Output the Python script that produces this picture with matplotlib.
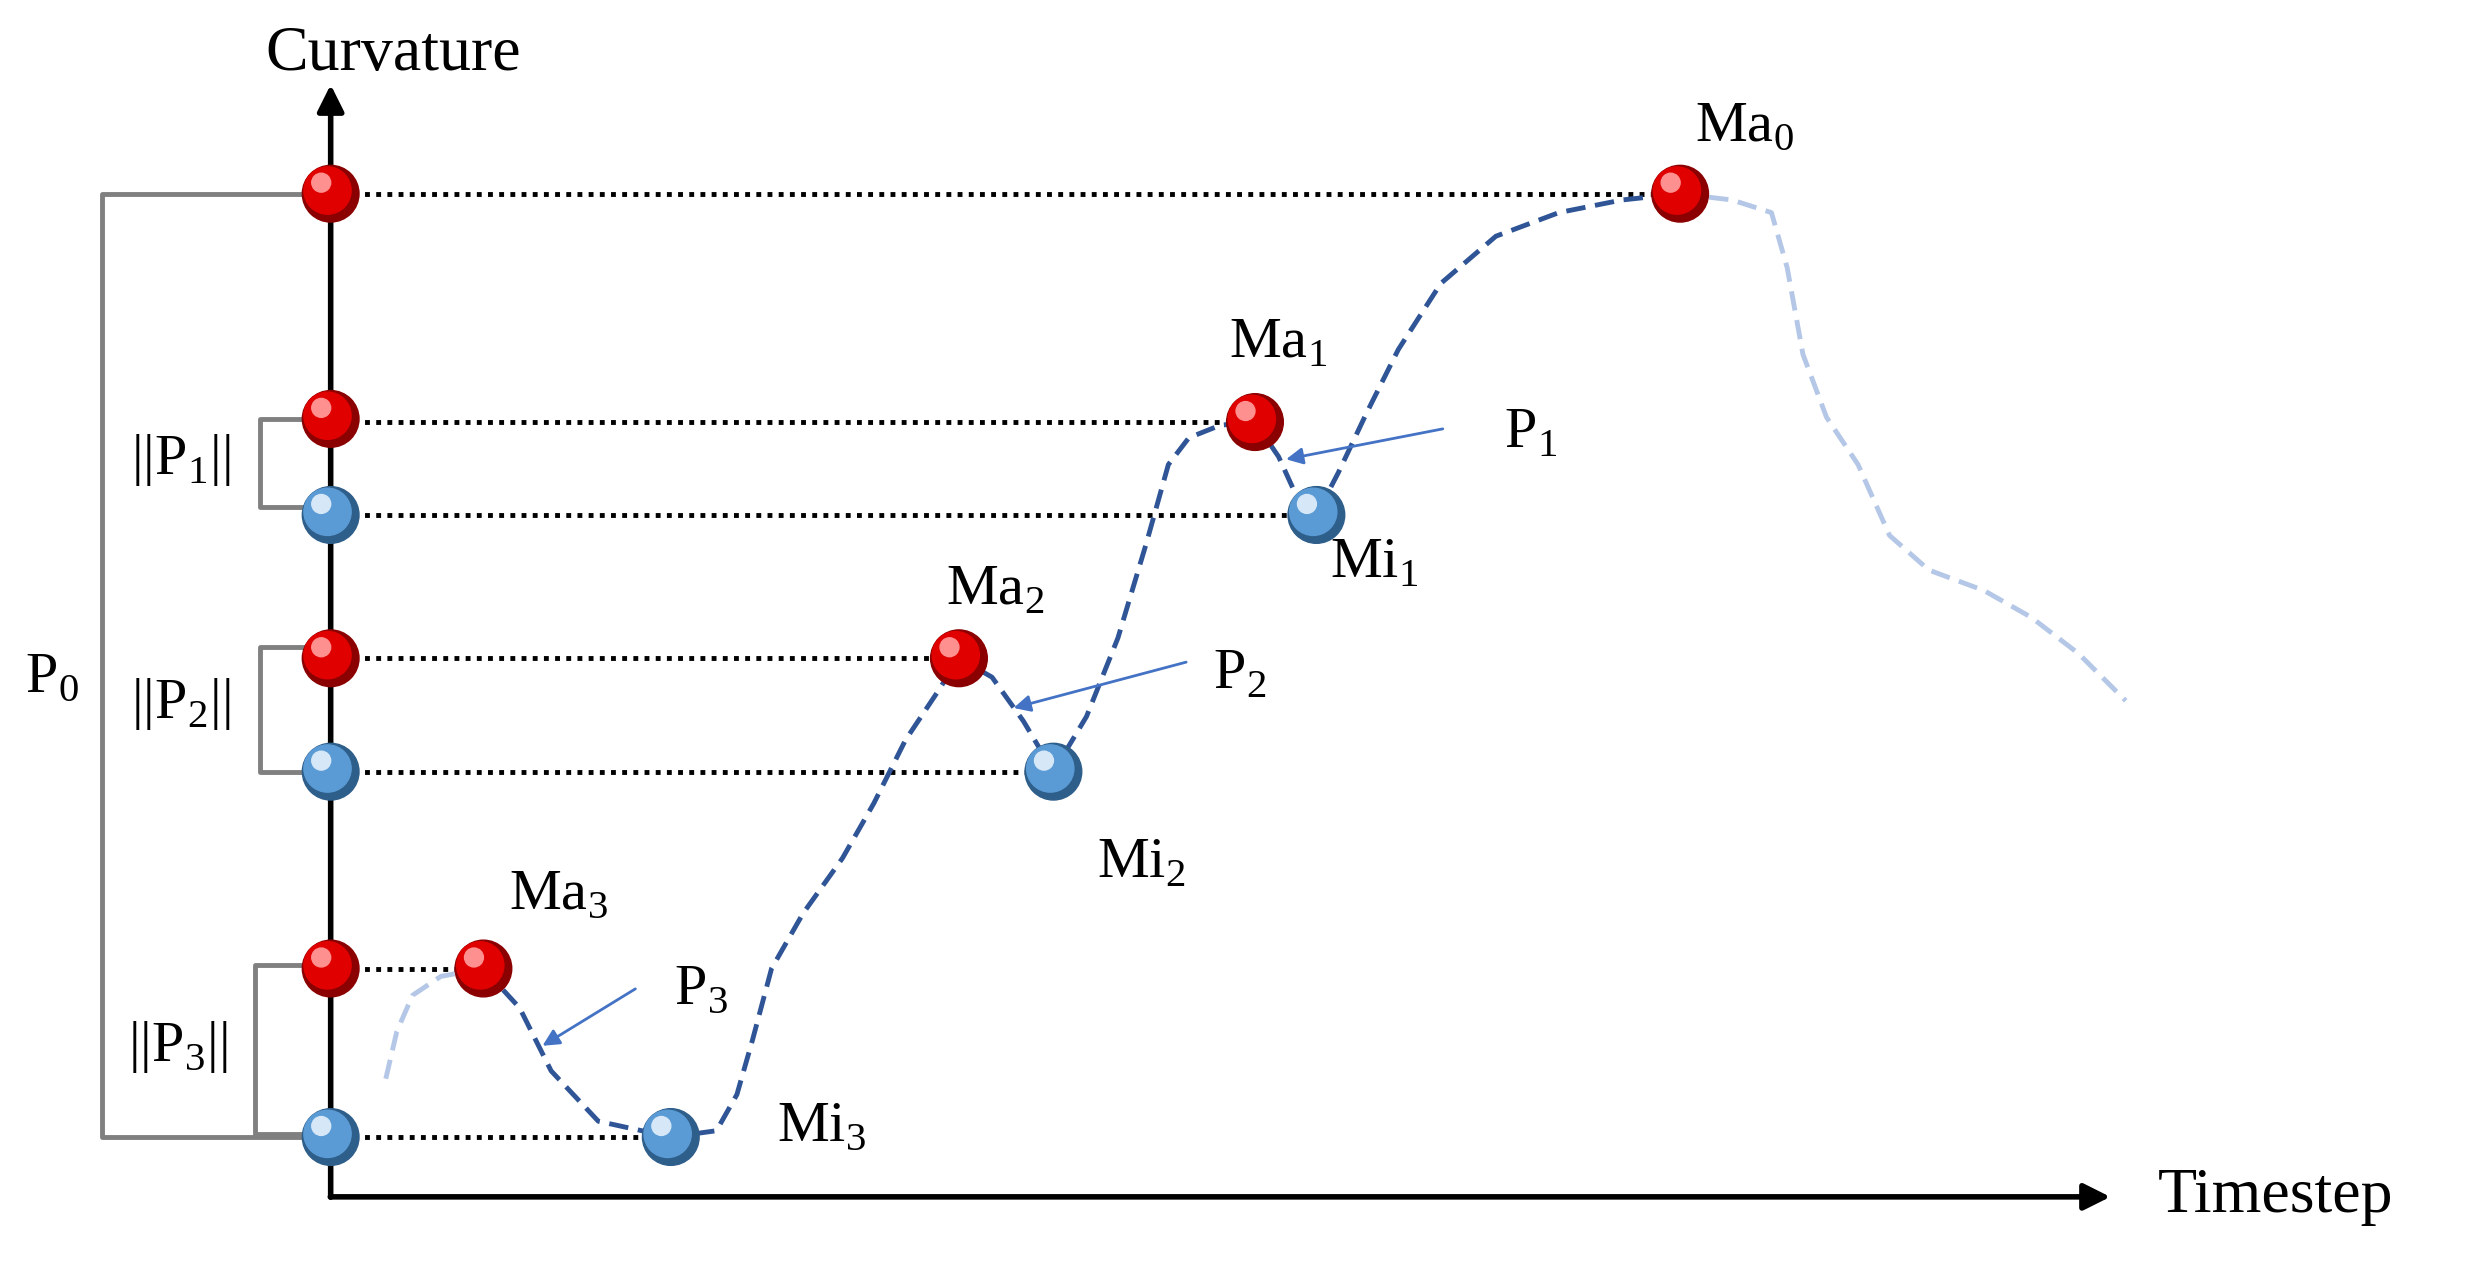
import numpy as np
import matplotlib.pyplot as plt
from matplotlib.patches import Circle

plt.rcParams['mathtext.fontset'] = 'custom'
plt.rcParams['mathtext.rm'] = 'Liberation Serif'
plt.rcParams['font.family'] = 'Liberation Serif'

# extrema positions (timestep, curvature) in picture units (y grows downward)
max_names = ['Ma0', 'Ma1', 'Ma2', 'Ma3']
max_t = [1067, 797, 609, 307]
max_c = [123, 268, 418, 615]
min_names = ['Mi1', 'Mi2', 'Mi3']
min_t = [836, 669, 426]
min_c = [327, 490, 722]

# curve between Ma3 and Ma0
curve_t = [307, 330, 350, 380, 426, 455, 468, 478, 490, 510, 535, 555, 575, 595, 609,
           630, 650, 669, 690, 710, 728, 742, 755, 775, 797, 812, 822, 836, 850, 868,
           888, 915, 950, 990, 1030, 1067]
curve_c = [615, 640, 680, 712, 722, 718, 695, 660, 615, 580, 545, 510, 470, 440, 418,
           430, 458, 490, 455, 405, 345, 295, 278, 270, 268, 290, 312, 327, 300, 262,
           222, 180, 150, 135, 127, 123]
fade_left_t = [245, 252, 262, 280, 307]
fade_left_c = [685, 655, 632, 620, 615]
fade_right_t = [1067, 1100, 1125, 1135, 1145, 1160, 1180, 1200, 1225, 1260, 1290, 1320, 1350]
fade_right_c = [123, 127, 135, 170, 225, 265, 295, 340, 362, 375, 392, 415, 445]

fig = plt.figure(figsize=(24.69, 12.63), dpi=100)
ax = fig.add_axes((0, 0, 1, 1))
ax.set_xlim(0, 1568)
ax.set_ylim(802, 0)
ax.axis('off')

ox, oy = 210, 760
ax.annotate('', xy=(ox, 52), xytext=(ox, oy + 2),
            arrowprops=dict(arrowstyle='-|>', lw=4, color='black', mutation_scale=40))
ax.annotate('', xy=(1342, oy), xytext=(ox - 2, oy),
            arrowprops=dict(arrowstyle='-|>', lw=4, color='black', mutation_scale=40))
ax.text(250, 35, 'Curvature', fontsize=46, ha='center', va='center')
ax.text(1445, 760, 'Timestep', fontsize=46, ha='center', va='center')

# dotted guide lines
for t, c in zip(max_t + min_t, max_c + min_c):
    ax.plot([ox, t], [c, c], ls=(0, (1, 1.3)), color='black', lw=3.5, zorder=1)

ax.plot(fade_left_t, fade_left_c, ls=(0, (4, 2)), color='#B4C7E7', lw=3.5, zorder=2)
ax.plot(fade_right_t, fade_right_c, ls=(0, (4, 2)), color='#B4C7E7', lw=3.5, zorder=2)
ax.plot(curve_t, curve_c, ls=(0, (4, 2)), color='#2F5597', lw=3.5, zorder=2)

# brackets
gray = '#808080'
ax.plot([195, 65, 65, 195], [123, 123, 722, 722], color=gray, lw=3.5, zorder=1)
for x0, a, b in [(165, 266, 322), (165, 411, 490), (162, 613, 720)]:
    ax.plot([195, x0, x0, 195], [a, a, b, b], color=gray, lw=3.5, zorder=1)

def ball(x, y, base, dark, light):
    ax.add_patch(Circle((x, y), 18, color=dark, zorder=5))
    ax.add_patch(Circle((x - 2, y - 2), 15, color=base, zorder=5))
    ax.add_patch(Circle((x - 6, y - 7), 6, color=light, zorder=5))

red = ('#E00000', '#8B0000', '#FF9090')
blue = ('#5B9BD5', '#2E5E8A', '#D6E8F7')
for t, c in zip(max_t, max_c):
    ball(t, c, *red)
    ball(ox, c if c != 268 else 266, *red)
for t, c in zip(min_t, min_c):
    ball(t, c, *blue)
    ball(ox, c, *blue)

fs = 42
ax.text(1108, 80, r'$\mathrm{Ma}_0$', fontsize=fs, ha='center', va='center')
ax.text(812, 218, r'$\mathrm{Ma}_1$', fontsize=fs, ha='center', va='center')
ax.text(632, 375, r'$\mathrm{Ma}_2$', fontsize=fs, ha='center', va='center')
ax.text(355, 568, r'$\mathrm{Ma}_3$', fontsize=fs, ha='center', va='center')
ax.text(873, 358, r'$\mathrm{Mi}_1$', fontsize=fs, ha='center', va='center')
ax.text(725, 548, r'$\mathrm{Mi}_2$', fontsize=fs, ha='center', va='center')
ax.text(522, 715, r'$\mathrm{Mi}_3$', fontsize=fs, ha='center', va='center')
ax.text(33, 430, r'$\mathrm{P}_0$', fontsize=fs, ha='center', va='center')
ax.text(115, 292, r'$||\mathrm{P}_1||$', fontsize=fs, ha='center', va='center')
ax.text(115, 447, r'$||\mathrm{P}_2||$', fontsize=fs, ha='center', va='center')
ax.text(113, 665, r'$||\mathrm{P}_3||$', fontsize=fs, ha='center', va='center')

for label, lx, ly, x0, y0, x1, y1 in [
        (r'$\mathrm{P}_1$', 972, 275, 918, 272, 815, 292),
        (r'$\mathrm{P}_2$', 787, 428, 755, 420, 642, 450),
        (r'$\mathrm{P}_3$', 445, 628, 405, 627, 343, 665)]:
    ax.text(lx, ly, label, fontsize=fs, ha='center', va='center')
    ax.annotate('', xy=(x1, y1), xytext=(x0, y0),
                arrowprops=dict(arrowstyle='-|>', lw=2, color='#4472C4', mutation_scale=25))

fig.savefig('out.png', dpi=100)
